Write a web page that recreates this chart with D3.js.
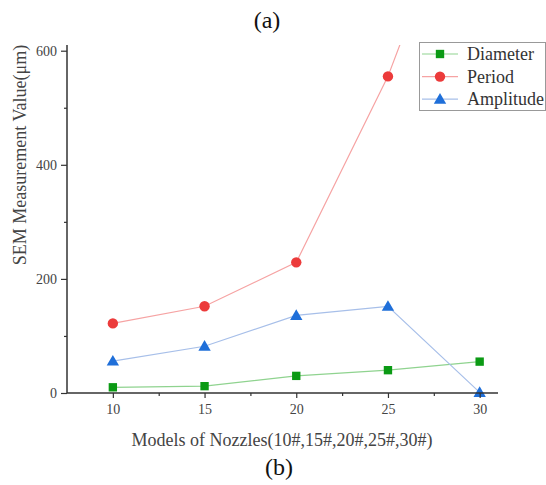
<!DOCTYPE html>
<html><head><meta charset="utf-8">
<script src="https://cdn.jsdelivr.net/npm/d3@7"></script>
<style>body{margin:0;background:#fff;} svg{display:block;}</style>
</head><body>
<script>
const nozzles = [10, 15, 20, 25, 30];
const diameter = [10, 12, 30, 40, 55];
const period = [122, 152, 229, 555, 980];
const amplitude = [56, 82, 136, 152, 1];
const xMajorTicks = [10, 15, 20, 25, 30];
const xMinorTicks = [12.5, 17.5, 22.5, 27.5];
const yMajorTicks = [0, 200, 400, 600];
const yMinorTicks = [100, 300, 500];
const seriesNames = ["Diameter", "Period", "Amplitude"];

(function () {
const W = 546, H = 485;
const pL = 67, pR = 498, pT = 45, pB = 393;
const svg = d3.select("body").append("svg").attr("width", W).attr("height", H);
const font = "'Liberation Serif', 'Times New Roman', serif";

const x = d3.scaleLinear().domain([7.5, 31]).range([pL, pR]);
const y = d3.scaleLinear().domain([0, 610]).range([pB, pT]);

svg.append("defs").append("clipPath").attr("id", "clip")
  .append("rect").attr("x", pL).attr("y", pT).attr("width", pR - pL).attr("height", pB - pT + 10);

const series = [
  {name: seriesNames[0], values: diameter, line: "#8fd38f", fill: "#0b9a14", sym: d3.symbolSquare, size: 70},
  {name: seriesNames[1], values: period, line: "#f6a3a3", fill: "#ec3b3b", sym: d3.symbolCircle, size: 85},
  {name: seriesNames[2], values: amplitude, line: "#a7bfe9", fill: "#1f6fd9", sym: d3.symbolTriangle, size: 66}
];

const g = svg.append("g").attr("clip-path", "url(#clip)");
const line = d3.line().x((d, i) => x(nozzles[i])).y(d => y(d));
series.forEach(s => {
  g.append("path").datum(s.values).attr("d", line)
    .attr("fill", "none").attr("stroke", s.line).attr("stroke-width", 1.2);
});
series.forEach(s => {
  svg.selectAll(null).data(s.values.filter(v => v <= 610)).enter().append("path")
    .attr("d", d3.symbol().type(s.sym).size(s.size))
    .attr("transform", (d, i) => `translate(${x(nozzles[i])},${y(d) + (s.sym === d3.symbolTriangle ? 1 : 0)})`)
    .attr("fill", s.fill);
});

// axes
const axColor = "#333";
const xAxis = svg.append("g").attr("transform", `translate(0,${pB})`)
  .call(d3.axisBottom(x).tickValues(xMajorTicks).tickSize(5).tickPadding(6).tickFormat(d3.format("d")));
svg.append("g").attr("transform", `translate(0,${pB})`)
  .call(d3.axisBottom(x).tickValues(xMinorTicks).tickSize(3).tickFormat(""))
  .select(".domain").remove();
const yAxis = svg.append("g").attr("transform", `translate(${pL},0)`)
  .call(d3.axisLeft(y).tickValues(yMajorTicks).tickSize(6).tickPadding(4).tickFormat(d3.format("d")));
svg.append("g").attr("transform", `translate(${pL},0)`)
  .call(d3.axisLeft(y).tickValues(yMinorTicks).tickSize(3).tickFormat(""))
  .select(".domain").remove();
svg.selectAll(".domain").attr("stroke", axColor).attr("stroke-width", 1.5);
svg.selectAll(".tick line").attr("stroke", axColor).attr("stroke-width", 1.2);
svg.selectAll(".tick text").attr("font-family", font).attr("font-size", 14).attr("fill", "#444");
xAxis.select(".domain").attr("d", `M${pL},0H${pR}`);
yAxis.select(".domain").attr("d", `M0,${pB}V${pT}`);

// titles
svg.append("text").attr("x", 282).attr("y", 446).attr("text-anchor", "middle")
  .attr("font-family", font).attr("font-size", 18).attr("fill", "#444")
  .text("Models of Nozzles(10#,15#,20#,25#,30#)");
svg.append("text").attr("transform", "translate(26,155) rotate(-90)").attr("text-anchor", "middle")
  .attr("font-family", font).attr("font-size", 18).attr("fill", "#444")
  .text("SEM Measurement Value(μm)");
svg.append("text").attr("x", 267).attr("y", 28).attr("text-anchor", "middle")
  .attr("font-family", font).attr("font-size", 24).attr("fill", "#111").text("(a)");
svg.append("text").attr("x", 279).attr("y", 475).attr("text-anchor", "middle")
  .attr("font-family", font).attr("font-size", 24).attr("fill", "#111").text("(b)");

// legend
const lg = svg.append("g");
lg.append("rect").attr("x", 419.5).attr("y", 42.5).attr("width", 126).attr("height", 68)
  .attr("fill", "#fff").attr("stroke", "#999").attr("stroke-width", 1);
series.forEach((s, i) => {
  const cy = 54 + i * 22.6;
  lg.append("line").attr("x1", 422).attr("x2", 458).attr("y1", cy).attr("y2", cy)
    .attr("stroke", s.line).attr("stroke-width", 1.2);
  lg.append("path").attr("d", d3.symbol().type(s.sym).size(s.size))
    .attr("transform", `translate(440,${cy + (s.sym === d3.symbolTriangle ? 1 : 0)})`).attr("fill", s.fill);
  lg.append("text").attr("x", 467).attr("y", cy + 6).attr("font-family", font)
    .attr("font-size", 18).attr("fill", "#333").text(s.name);
});
})();
</script>
</body></html>
